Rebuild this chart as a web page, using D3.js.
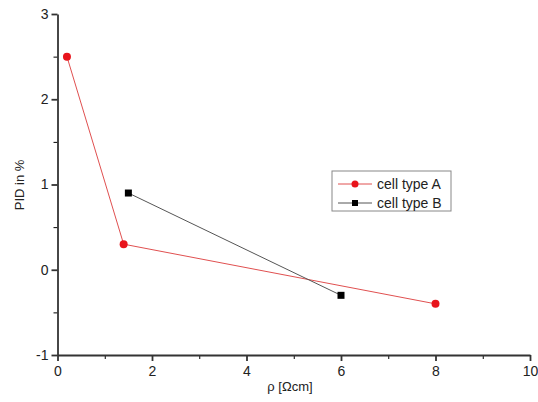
<!DOCTYPE html>
<meta charset="utf-8" />
<style>
  body { margin: 0; background: white; }
  text { font-family: "Liberation Sans", Arial, sans-serif; fill: #222; }
</style>
<body>
  <svg id="chart" width="538" height="402"></svg>
</body>
<script src="https://d3js.org/d3.v7.min.js"></script>
<script>
  // data
  const seriesNames = ["cell type A", "cell type B"];
  const rhoA = [0.2, 1.4, 8];
  const pidA = [2.5, 0.3, -0.4];
  const rhoB = [1.5, 6];
  const pidB = [0.9, -0.3];
  const xTicks = [0, 2, 4, 6, 8, 10];
  const yTicks = [-1, 0, 1, 2, 3];

  const svg = d3.select("#chart");

  // plot area
  const margin = { top: 14, right: 8, bottom: 47, left: 57.5 };
  const width = 538 - margin.left - margin.right;
  const height = 402 - margin.top - margin.bottom;

  const g = svg.append("g")
    .attr("transform", "translate(" + margin.left + "," + margin.top + ")");

  const x = d3.scaleLinear().domain([0, 10]).range([0, 472.5]);
  const y = d3.scaleLinear().domain([-1, 3]).range([height, 0]);

  // minor ticks first, then major ones on top
  g.append("g")
    .attr("transform", "translate(0," + height + ")")
    .call(d3.axisBottom(x).tickValues(d3.range(1, 10, 2)).tickSize(4).tickFormat(""))
    .call((a) => a.select(".domain").remove());
  g.append("g")
    .call(d3.axisLeft(y).tickValues(d3.range(-0.5, 3, 1)).tickSize(4).tickFormat(""))
    .call((a) => a.select(".domain").remove());

  const fmt = (d) => String(d);
  const xAxis = g.append("g")
    .attr("transform", "translate(0," + height + ")")
    .call(d3.axisBottom(x).tickValues(xTicks).tickFormat(fmt).tickSize(6).tickSizeOuter(0).tickPadding(5));
  const yAxis = g.append("g")
    .call(d3.axisLeft(y).tickValues(yTicks).tickFormat(fmt).tickSize(6).tickSizeOuter(0).tickPadding(3));

  [xAxis, yAxis].forEach((a) => {
    a.selectAll("text").style("font-size", "14px").attr("fill", "#222");
    a.selectAll("line, path").attr("stroke", "#333").attr("stroke-width", 1.8);
  });

  // axis titles
  svg.append("text")
    .attr("x", 290).attr("y", 391)
    .attr("text-anchor", "middle")
    .style("font-size", "13px")
    .text("ρ [Ωcm]");
  svg.append("text")
    .attr("transform", "translate(24,185) rotate(-90)")
    .attr("text-anchor", "middle")
    .style("font-size", "13px")
    .text("PID in %");

  const line = d3.line().x((d) => x(d[0])).y((d) => y(d[1]));
  const dataA = rhoA.map((v, i) => [v, pidA[i]]);
  const dataB = rhoB.map((v, i) => [v, pidB[i]]);

  const red = "#e8141c";
  const dark = "#555";

  g.append("path").datum(dataA).attr("d", line)
    .attr("fill", "none").attr("stroke", "#e05050").attr("stroke-width", 1);
  g.append("path").datum(dataB).attr("d", line)
    .attr("fill", "none").attr("stroke", dark).attr("stroke-width", 1);

  g.selectAll(".ptA").data(dataA).enter().append("circle")
    .attr("cx", (d) => x(d[0])).attr("cy", (d) => y(d[1]))
    .attr("r", 4).attr("fill", red);
  g.selectAll(".ptB").data(dataB).enter().append("rect")
    .attr("x", (d) => x(d[0]) - 3.5).attr("y", (d) => y(d[1]) - 3.5)
    .attr("width", 7).attr("height", 7).attr("fill", "#000");

  // legend
  const leg = svg.append("g").attr("transform", "translate(332,171)");
  leg.append("rect").attr("width", 119).attr("height", 40)
    .attr("fill", "white").attr("stroke", "#888").attr("stroke-width", 1);
  const rows = [
    { name: seriesNames[0], color: "#e05050", mark: "circle" },
    { name: seriesNames[1], color: dark, mark: "square" },
  ];
  rows.forEach((r, i) => {
    const cy = 13 + i * 19;
    leg.append("line").attr("x1", 6).attr("x2", 40).attr("y1", cy).attr("y2", cy)
      .attr("stroke", r.color).attr("stroke-width", 1);
    if (r.mark === "circle") {
      leg.append("circle").attr("cx", 23).attr("cy", cy).attr("r", 3.5).attr("fill", red);
    } else {
      leg.append("rect").attr("x", 20).attr("y", cy - 3).attr("width", 6).attr("height", 6).attr("fill", "#000");
    }
    leg.append("text").attr("x", 45).attr("y", cy + 5)
      .style("font-size", "14px").text(r.name);
  });
</script>
